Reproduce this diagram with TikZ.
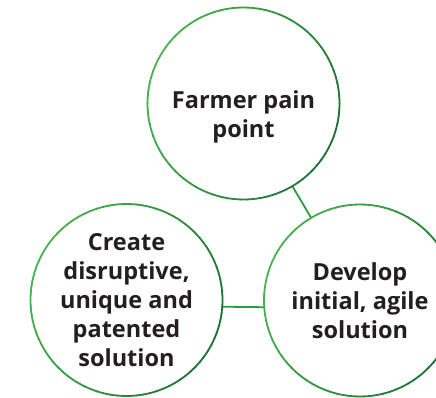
\documentclass[tikz,border=0pt]{standalone}
\usepackage{fontspec}
\setmainfont{Open Sans}
\definecolor{lt}{HTML}{48B350}
\definecolor{dk}{HTML}{1B7235}
\definecolor{lnk}{HTML}{2F9A44}
\definecolor{txt}{HTML}{231F20}
\tikzset{
  bubble/.style={circle, draw=none, minimum size=192pt, inner sep=0pt, align=center,
    text=txt, font=\bfseries\fontsize{23.5}{29}\selectfont},
  link/.style={draw=lnk, line width=1.8pt}
}
\newcommand{\ringdraw}[1]{%
  \foreach \a in {0,4,...,356}{%
    \pgfmathtruncatemacro\p{50+50*cos(\a+25)}%
    \draw[line width=1.8pt, line cap=round, dk!\p!lt]
      ($(#1.center)+(\a:96)$) arc[start angle=\a, end angle=\a+4.2, radius=96];
  }%
}
\usetikzlibrary{calc}
\begin{document}
\begin{tikzpicture}[x=1pt,y=1pt]
\useasboundingbox (0,0) rectangle (436,397);
\node[bubble] (T) at (243.5,293.5) {};
\node[text=txt, font=\bfseries\fontsize{23.5}{29}\selectfont, align=center] (Tt) at (243.5,280) {Farmer pain\\point};
\node[bubble] (L) at (126.5,97) {Create\\disruptive,\\unique and\\patented\\solution};
\node[bubble] (R) at (360,96.5) {Develop\\initial, agile\\solution};
\draw[link] (T) -- (R);
\draw[link] (L.-4.8) -- (R.184.8);
\ringdraw{T}
\ringdraw{L}
\ringdraw{R}
\end{tikzpicture}
\end{document}
